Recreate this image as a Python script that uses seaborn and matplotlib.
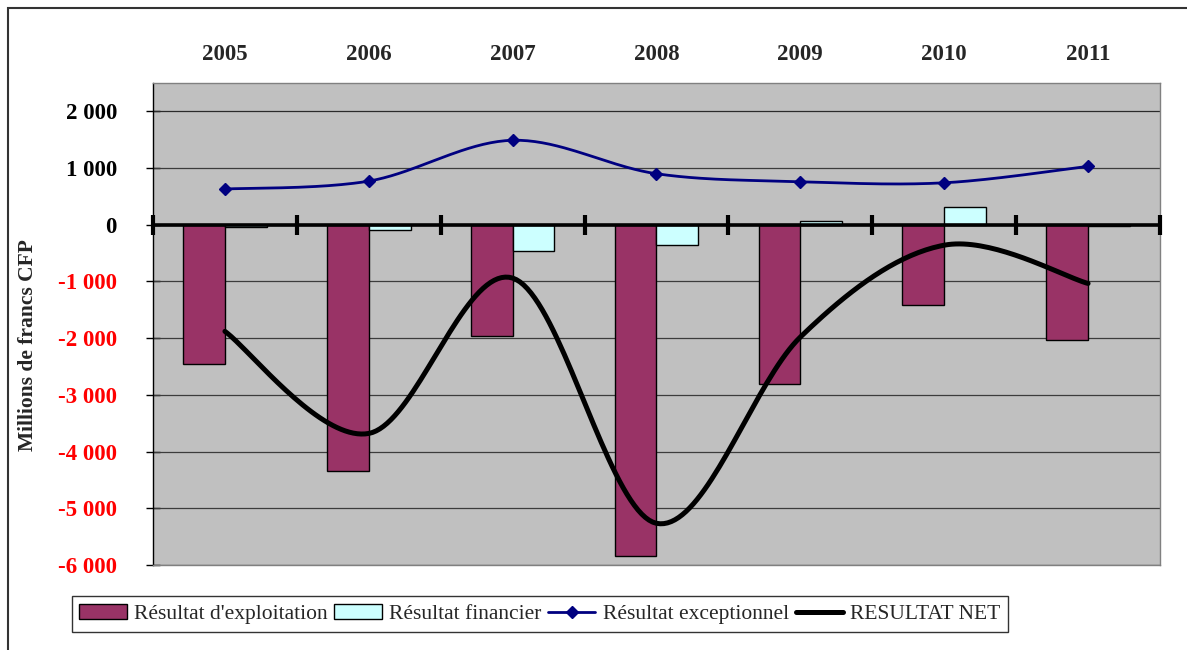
import numpy as np
import pandas as pd
import matplotlib
matplotlib.use("Agg")
import matplotlib.pyplot as plt
import seaborn as sns
from matplotlib.lines import Line2D
from matplotlib.patches import Patch, Rectangle
from matplotlib.ticker import FuncFormatter

# Millions de francs CFP
years = ["2005", "2006", "2007", "2008", "2009", "2010", "2011"]
exploitation = [-2450, -4340, -1960, -5840, -2810, -1410, -2035]
financier = [-40, -100, -470, -360, 75, 320, -15]
exceptionnel = [630, 770, 1490, 900, 760, 740, 1030]
resultat_net = [-1880, -3680, -940, -5265, -1980, -360, -1035]

series_bars = ["Résultat d'exploitation", "Résultat financier"]
label_exc = "Résultat exceptionnel"
label_net = "RESULTAT NET"

col_exploit = "#993366"
col_fin = "#CCFFFF"
col_exc = "#000080"
col_net = "#000000"


def smooth_curve(ys, steps=40):
    """Bezier smoothing through the points (Catmull-Rom tangents)."""
    pts = np.column_stack([np.arange(len(ys), dtype=float), np.asarray(ys, float)])
    ext = np.vstack([pts[0], pts, pts[-1]])
    out = []
    t = np.linspace(0, 1, steps)[:, None]
    for i in range(len(pts) - 1):
        p0, p3 = ext[i + 1], ext[i + 2]
        p1 = p0 + (ext[i + 2] - ext[i]) / 6.0
        p2 = p3 - (ext[i + 3] - ext[i + 1]) / 6.0
        seg = ((1 - t) ** 3) * p0 + 3 * ((1 - t) ** 2) * t * p1 + 3 * (1 - t) * t ** 2 * p2 + t ** 3 * p3
        out.append(seg if i == 0 else seg[1:])
    c = np.vstack(out)
    return c[:, 0], c[:, 1]


sns.set_theme(style="white")
plt.rcParams["font.family"] = ["Liberation Serif", "DejaVu Serif"]

fig = plt.figure(figsize=(11.87, 6.5), dpi=100)
ax = fig.add_axes([153 / 1187, 1 - 565 / 650, (1160 - 153) / 1187, (565 - 83) / 650])
ax.set_facecolor("#C0C0C0")

df = pd.DataFrame({
    "Année": years * 2,
    "Série": [series_bars[0]] * len(years) + [series_bars[1]] * len(years),
    "Valeur": exploitation + financier,
})

sns.barplot(data=df, x="Année", y="Valeur", hue="Série", hue_order=series_bars,
            palette=[col_exploit, col_fin], width=0.58, dodge=True, saturation=1,
            edgecolor="black", linewidth=1.0, legend=False, ax=ax, zorder=3)

# horizontal gridlines
ax.set_ylim(-6000, 2500)
ax.set_xlim(-0.5, len(years) - 0.5)
ticks = np.arange(-6000, 2001, 1000)
ax.set_yticks(ticks)
for v in ticks:
    ax.axhline(v, color="#2a2a2a" if v == 2000 else "#3c3c3c", lw=0.9, zorder=1)

# smoothed lines
xe, ye = smooth_curve(exceptionnel)
ax.plot(xe, ye, color=col_exc, lw=2.0, zorder=6, solid_capstyle="round")
ax.plot(np.arange(len(years)), exceptionnel, ls="none", marker="D", ms=6.5,
        color=col_exc, zorder=7)
xn, yn = smooth_curve(resultat_net)
ax.plot(xn, yn, color=col_net, lw=3.6, zorder=6, solid_capstyle="round")

# zero axis with category separators
ax.axhline(0, color="black", lw=2.6, zorder=5)
ax.plot(np.arange(-0.5, len(years), 1.0), np.zeros(len(years) + 1), ls="none",
        marker="|", ms=14, mew=3.0, color="black", zorder=5, clip_on=False)

# axes styling
for side in ["top", "right", "bottom"]:
    ax.spines[side].set_color("#808080")
    ax.spines[side].set_linewidth(1.0)
ax.spines["left"].set_color("black")
ax.spines["left"].set_linewidth(1.0)

ax.xaxis.tick_top()
ax.set_xticks(range(len(years)))
ax.set_xticklabels(years, fontsize=16.5, fontweight="bold")
ax.tick_params(axis="x", length=0, pad=13)
ax.set_xlabel("")
ax.set_ylabel("")

ax.yaxis.set_major_formatter(FuncFormatter(lambda v, p: f"{int(v):,}".replace(",", " ")))
ax.tick_params(axis="y", direction="inout", length=10, width=1, color="black", pad=21,
               left=True, labelsize=16.5)
for lab, v in zip(ax.get_yticklabels(), ticks):
    lab.set_fontweight("bold")
    lab.set_color("#FF0000" if v < 0 else "black")

fig.text(28 / 1187, 1 - 345 / 650, "Millions de francs CFP", rotation=90,
         ha="center", va="center", fontsize=15.5, fontweight="bold")

# legend
handles = [
    Patch(facecolor=col_exploit, edgecolor="black", lw=1.0),
    Patch(facecolor=col_fin, edgecolor="black", lw=1.0),
    Line2D([], [], color=col_exc, lw=2.0, marker="D", ms=6),
    Line2D([], [], color=col_net, lw=3.6),
]
labels = series_bars + [label_exc, label_net]
leg = fig.legend(handles, labels, loc="center", bbox_to_anchor=(540 / 1187, 1 - 614 / 650),
                 ncol=4, fontsize=15.5, frameon=True, fancybox=False, shadow=False,
                 handlelength=2.2, handleheight=0.7, handletextpad=0.35, columnspacing=0.3,
                 borderpad=0.35, borderaxespad=0)
leg.get_frame().set_edgecolor("black")
leg.get_frame().set_linewidth(1.0)

# chart border
fig.patches.append(Rectangle((8 / 1187, -0.5), 2.0, 1.5 - 8 / 650, transform=fig.transFigure,
                             fill=False, edgecolor="#333333", lw=1.5, zorder=0))

fig.savefig("out.png", dpi=100, facecolor="white")
